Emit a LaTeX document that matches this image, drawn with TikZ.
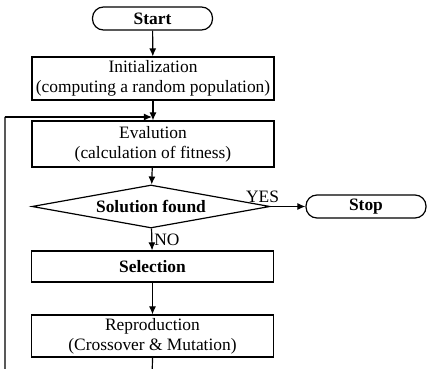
\documentclass[tikz,border=0pt]{standalone}
\usepackage{fontspec}
\setmainfont{Liberation Serif}
\usetikzlibrary{shapes.geometric,arrows.meta}

\begin{document}
\begin{tikzpicture}[x=0.5pt,y=-0.5pt,line width=0.6pt,
  term/.style={draw,rounded corners=5.5pt,minimum width=60pt,minimum height=11.5pt,inner sep=0pt,font=\fontsize{8.7}{10}\selectfont\bfseries},
  proc/.style={draw,minimum width=121pt,align=center,inner sep=0pt,font=\fontsize{8.7}{10}\selectfont},
  decide/.style={draw,diamond,aspect=5.5,minimum width=119pt,minimum height=21.5pt,inner sep=0pt,font=\fontsize{8.7}{10}\selectfont\bfseries},
  flow/.style={-{Latex[length=4pt,width=3.5pt]}}]
\useasboundingbox (0,0) rectangle (430,369);
\clip (0,0) rectangle (430,369);
\node [term] (start) at (152.5,18.5) {Start};
\node [proc,minimum height=21.5pt] (init) at (153,78.5) {Initialization\\(computing a random population)};
\node [proc,minimum height=23pt] (eval) at (153,144) {Evalution\\(calculation of fitness)};
\node [decide] (found) at (151,206.5) {Solution found};
\node [term] (stop) at (366,206.5) {Stop};
\node [proc,minimum height=15.5pt,font=\fontsize{8.7}{10}\selectfont\bfseries] (select) at (152.5,266.5) {Selection};
\node [proc,minimum height=21pt] (repro) at (152.5,336) {Reproduction\\(Crossover \& Mutation)};
\coordinate (join) at (152,117);
\coordinate (down) at (152,385);
\coordinate (corner) at (5,385);
\coordinate (up) at (5,117);
\draw [flow] (start) -- (init);
\draw [flow] (init) -- (eval);
\draw [flow] (eval) -- (found);
\draw [flow] (found) -- node [above,pos=0,xshift=-4pt,font=\fontsize{8.7}{10}\selectfont,inner sep=1.5pt] {YES} (stop);
\draw [flow] (found) -- node [right,font=\fontsize{8.7}{10}\selectfont,inner sep=1pt] {NO} (select);
\draw [flow] (select) -- (repro);
\draw (repro.south) -- (down) -- (corner) -- (up);
\draw [flow] (up) -- (join);
\end{tikzpicture}
\end{document}
